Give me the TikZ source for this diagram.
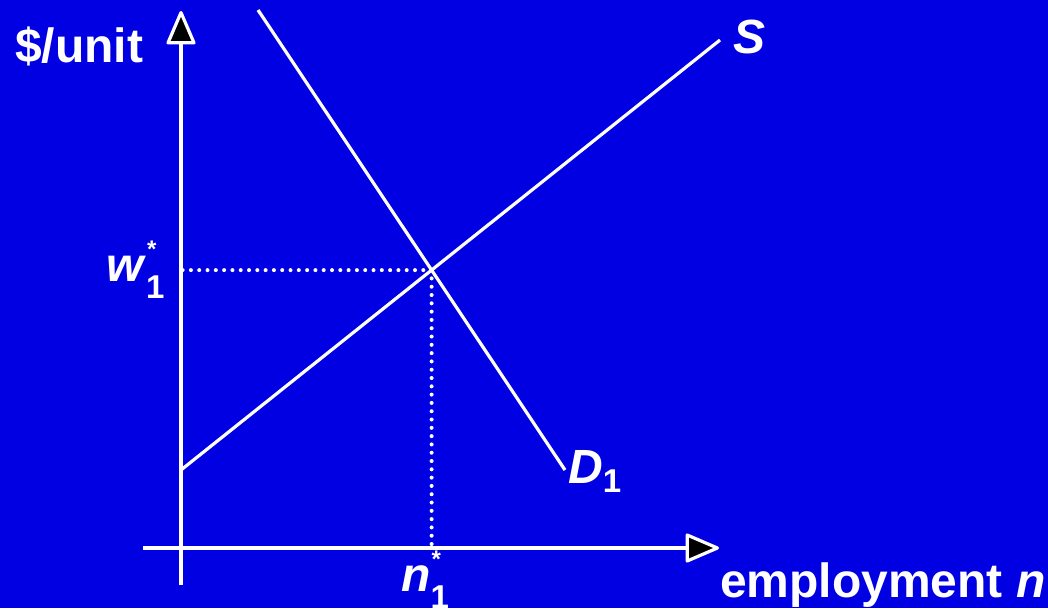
\documentclass[tikz,border=0pt]{standalone}
\usepackage{fontspec}
\setmainfont{Liberation Sans}
\usepackage{tikz}
\usetikzlibrary{arrows.meta,positioning}

\definecolor{slideblue}{RGB}{0,0,226}

% subscript one, with or without the star above it
\newcommand{\lowone}{\raisebox{-9pt}{\fontsize{33}{33}\selectfont 1}}
\newcommand{\lowonestar}{\rlap{\raisebox{-17pt}{\fontsize{33}{33}\selectfont 1}}\hspace{1pt}\raisebox{24pt}{\fontsize{24}{24}\selectfont *}}

\begin{document}
\begin{tikzpicture}[x=1pt,y=-1pt,
  axis/.style={white,line width=3.2pt,-{Triangle[round,fill=black,length=36pt,width=30pt,line width=3.2pt]}},
  curve/.style={white,line width=3.2pt},
  guide/.style={white,line width=4pt,line cap=round,dash pattern=on 0pt off 8.3pt},
  lbl/.style={text=white,font=\fontsize{48}{56}\selectfont\bfseries,inner sep=0pt,anchor=base west}]
% background
\fill[slideblue] (0,0) rectangle (1048,608);
% axes
\coordinate (ybot) at (181,585);
\coordinate (ytop) at (181,11);
\coordinate (xleft) at (143,548);
\coordinate (xright) at (719,548);
\coordinate (O) at (181,548);
\draw[axis] (ybot) -- (ytop);
\draw[axis] (xleft) -- (xright);
% supply and demand
\coordinate (s0) at (181,470);
\coordinate (s1) at (720,40);
\coordinate (d0) at (258,10);
\coordinate (d1) at (565,470);
\draw[curve] (s0) -- (s1);
\draw[curve] (d0) -- (d1);
\coordinate (eq) at (intersection of s0--s1 and d0--d1);
% equilibrium guides
\draw[guide] (eq) -- (eq -| O);
\draw[guide] (eq) -- (eq |- O);
% labels
\node[lbl] (ylab) at (15,62) {\$/unit};
\node[lbl] (xlab) at (720,597) {employment \textit{n}};
\node[lbl] (slab) at (733,53) {\textit{S}};
\node[lbl] (dlab) at (568,483) {\textit{D}\lowone};
\node[lbl] (wlab) at (106,281) {\textit{w}\lowonestar};
\node[lbl] (nlab) at (401,591) {\textit{n}\lowonestar};
\end{tikzpicture}
\end{document}
